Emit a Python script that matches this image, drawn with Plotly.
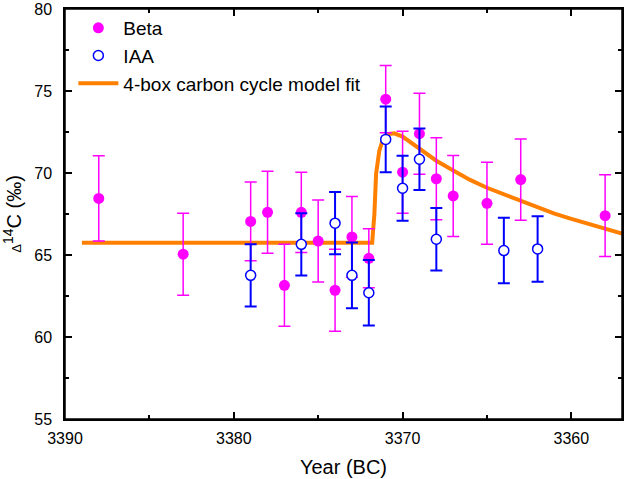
import plotly.graph_objects as go

# Beta lab measurements (year BC, delta 14C permil, 1-sigma)
beta_year = [3388, 3383, 3379, 3378, 3377, 3376, 3375, 3374, 3373, 3372, 3371, 3370, 3369, 3368, 3367, 3365, 3363, 3358]
beta_d14c = [68.45, 65.05, 67.05, 67.6, 63.15, 67.6, 65.85, 62.85, 66.1, 64.8, 74.5, 70.05, 72.4, 69.65, 68.6, 68.15, 69.6, 67.4]
beta_err = [2.6, 2.5, 2.4, 2.5, 2.5, 2.45, 2.5, 2.5, 2.46, 1.8, 2.05, 2.5, 2.47, 2.5, 2.47, 2.5, 2.48, 2.49]

# IAA measurements
iaa_year = [3379, 3376, 3374, 3373, 3372, 3371, 3370, 3369, 3368, 3364, 3362]
iaa_d14c = [63.76, 65.65, 66.94, 63.76, 62.7, 72.05, 69.07, 70.84, 65.96, 65.27, 65.37]
iaa_err = [1.9, 1.9, 1.9, 2.0, 2.0, 2.0, 1.98, 1.88, 1.9, 2.0, 2.0]

# 4-box model curve
model_year = [3389.0, 3371.8, 3371.67, 3371.57, 3371.38, 3371.18, 3370.78, 3370.5, 3370.0, 3369.0,
              3368.0, 3367.0, 3366.0, 3365.0, 3364.0, 3363.0, 3362.0, 3361.0, 3360.0, 3359.0, 3358.0, 3357.0]
model_d14c = [65.75, 65.75, 67.5, 69.95, 71.35, 72.0, 72.38, 72.42, 72.22, 71.52,
              70.75, 70.15, 69.58, 69.1, 68.7, 68.33, 67.88, 67.52, 67.2, 66.92, 66.62, 66.3]

x_range = [3390, 3357]
y_range = [55, 80]

MAGENTA = '#FF00FF'
BLUE = '#0000FF'
ORANGE = '#FF8000'
FONT = 'Liberation Sans, Arial'

fig = go.Figure()
fig.add_trace(go.Scatter(x=model_year, y=model_d14c, mode='lines',
                         name='4-box carbon cycle model fit', legendrank=3,
                         line=dict(color=ORANGE, width=4)))
fig.add_trace(go.Scatter(x=beta_year, y=beta_d14c, mode='markers', name='Beta', legendrank=1,
                         marker=dict(color=MAGENTA, size=11, symbol='circle'),
                         error_y=dict(type='data', array=beta_err, color=MAGENTA,
                                      thickness=1.5, width=6)))
fig.add_trace(go.Scatter(x=iaa_year, y=iaa_d14c, mode='markers', name='IAA', legendrank=2,
                         marker=dict(color='white', size=10, symbol='circle',
                                     line=dict(color=BLUE, width=1.5)),
                         error_y=dict(type='data', array=iaa_err, color=BLUE,
                                      thickness=2, width=6)))
# empty trace so the top/right tick axes get drawn
fig.add_trace(go.Scatter(x=[], y=[], xaxis='x2', yaxis='y2', showlegend=False, hoverinfo='skip'))

axis_common = dict(showline=True, linecolor='black', linewidth=1.5,
                   ticks='inside', ticklen=7, tickwidth=1.5, tickcolor='black',
                   showgrid=False, zeroline=False, automargin=False,
                   ticklabeloverflow='allow',
                   tickfont=dict(family=FONT, size=16, color='black'))
x_minor = dict(ticks='inside', ticklen=4, dtick=5, tickwidth=1.5, tickcolor='black')
y_minor = dict(ticks='inside', ticklen=4, dtick=2.5, tickwidth=1.5, tickcolor='black')

fig.update_layout(
    xaxis=dict(range=x_range, dtick=10, tick0=3390, minor=x_minor,
               title=dict(text='Year (BC)', font=dict(family=FONT, size=20, color='black'),
                          standoff=14),
               ticklabelstandoff=4, **axis_common),
    yaxis=dict(range=y_range, dtick=5, tick0=55, minor=y_minor,
               title=dict(text='<span style="font-size:13px">Δ</span><sup>14</sup>C (‰)',
                          font=dict(family=FONT, size=20, color='black'),
                          standoff=8),
               ticklabelstandoff=8, **axis_common),
    # frame on top and right with mirrored ticks
    xaxis2=dict(range=x_range, dtick=10, tick0=3390, minor=x_minor, overlaying='x',
                side='top', anchor='y2', showticklabels=False, **axis_common),
    yaxis2=dict(range=y_range, dtick=5, tick0=55, minor=y_minor, overlaying='y',
                side='right', anchor='x2', showticklabels=False, **axis_common),
    shapes=[dict(type='rect', xref='paper', yref='paper', x0=0, x1=1, y0=0, y1=1,
                 line=dict(color='black', width=1.5), layer='above')],
)

fig.update_layout(
    width=624, height=479,
    margin=dict(l=65, r=2, t=9, b=60),
    plot_bgcolor='white', paper_bgcolor='white',
    font=dict(family=FONT, color='black'),
    legend=dict(x=0.015, y=1.0, xanchor='left', yanchor='top', bgcolor='rgba(0,0,0,0)',
                font=dict(size=19, family=FONT, color='black'),
                itemwidth=40, tracegroupgap=0),
    showlegend=True,
)

# drop the default body margin so the 624x479 figure fills the window exactly
fig.write_html("out.html", config={'displayModeBar': False},
               post_script="document.body.style.margin='0';document.body.style.overflow='hidden';")
